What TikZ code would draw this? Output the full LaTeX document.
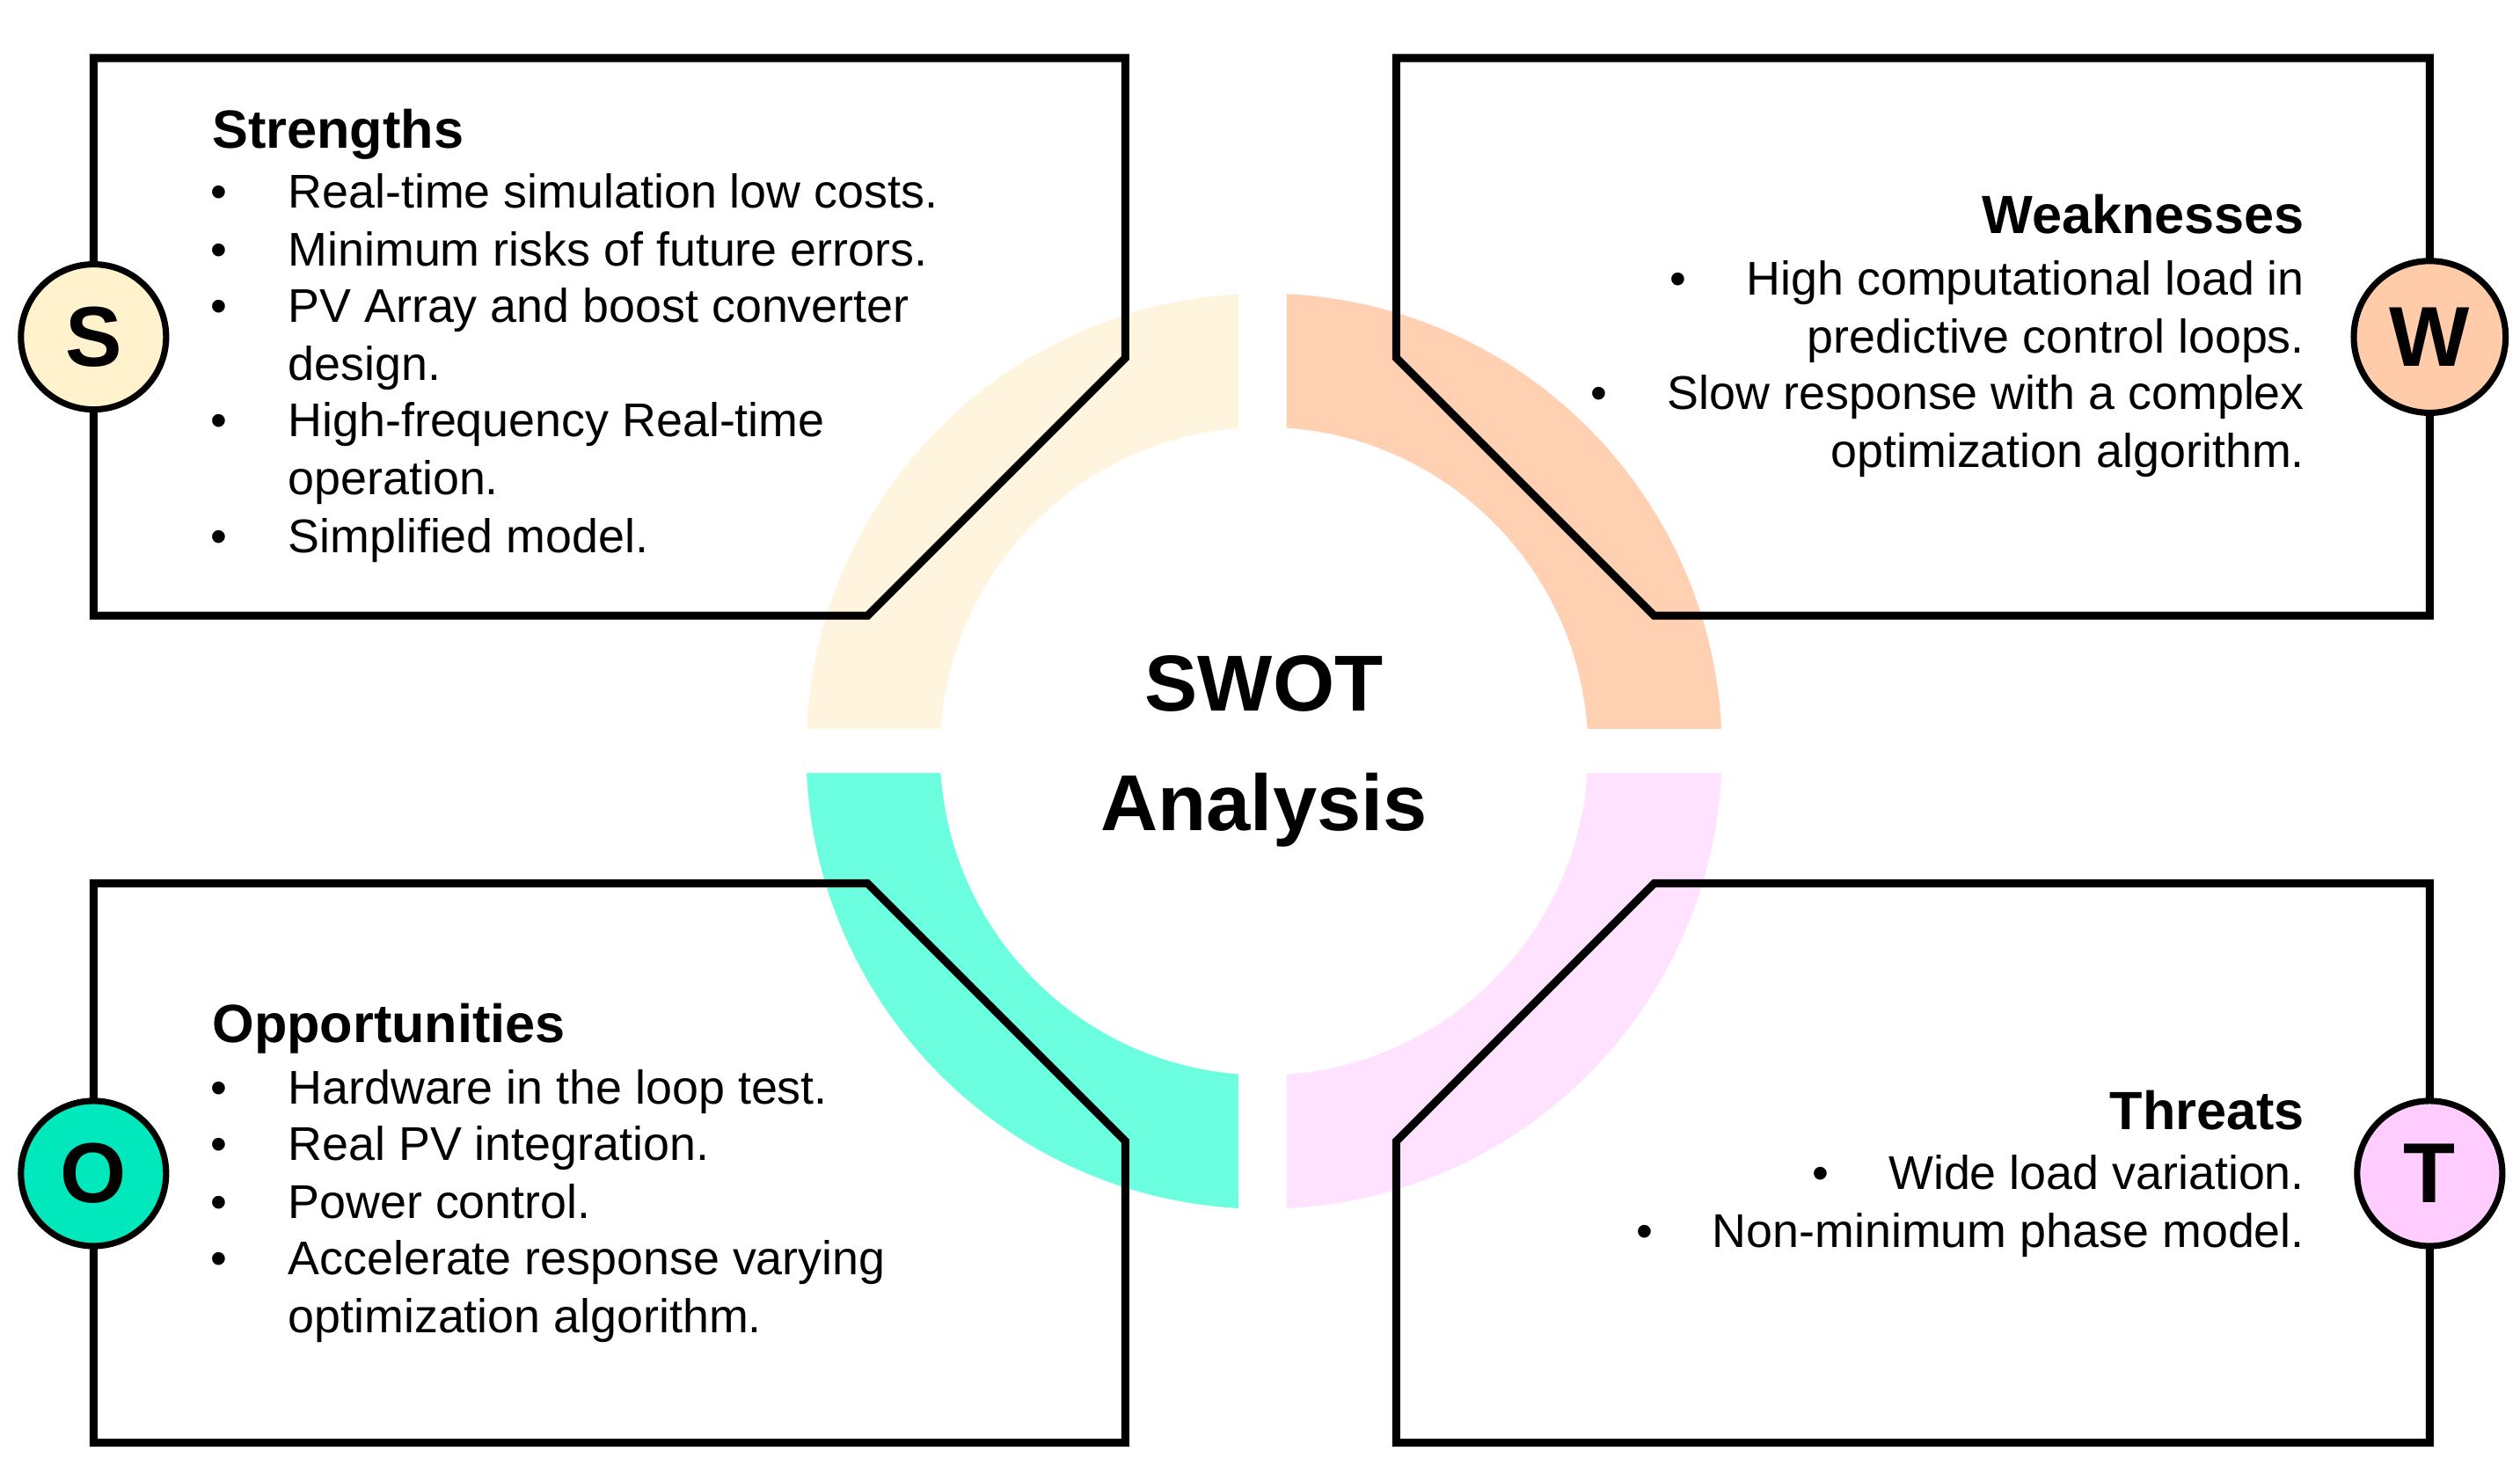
\documentclass[tikz,border=0pt]{standalone}
\usepackage{fontspec}
\setmainfont{Liberation Sans}
\begin{document}
\begin{tikzpicture}[x=0.01cm,y=-0.01cm,
  box/.style={line width=1.4pt,line join=miter},
  badge/.style={circle,draw,line width=1.1pt,minimum size=0.9cm,font=\fontsize{15}{18}\selectfont\bfseries},
  txt/.style={font=\fontsize{8.35}{10}\selectfont,inner sep=0pt},
  hd/.style={font=\fontsize{9.5}{11}\selectfont\bfseries,inner sep=0pt},
  bul/.style={font=\fontsize{8.35}{10}\selectfont,inner sep=0pt,anchor=base}]
\definecolor{cS}{HTML}{FFF4DE}\definecolor{cW}{HTML}{FFD0B2}
\definecolor{cO}{HTML}{6CFFDF}\definecolor{cT}{HTML}{FFE2FF}
\definecolor{bS}{HTML}{FFF2CC}\definecolor{bW}{HTML}{FFCBA8}
\definecolor{bO}{HTML}{00E8BC}\definecolor{bT}{HTML}{FFCCFF}
\useasboundingbox (0,0) rectangle (1563,918);
% ring
\foreach \c/\xa/\xb/\ya/\yb in {cS/490/768/170/452, cW/798/1080/170/452, cO/490/768/480/760, cT/798/1080/480/760}{
  \begin{scope}
  \clip (\xa,\ya) rectangle (\xb,\yb);
  \fill[\c,even odd rule] (784,466) circle[radius=284] (784,466) circle[radius=201];
  \end{scope}}
% boxes
\draw[box] (58,36)--(698,36)--(698,222)--(538,382)--(58,382)--cycle;
\draw[box] (866,36)--(1507,36)--(1507,382)--(1026,382)--(866,222)--cycle;
\draw[box] (58,548)--(538,548)--(698,708)--(698,895)--(58,895)--cycle;
\draw[box] (866,708)--(1026,548)--(1507,548)--(1507,895)--(866,895)--cycle;
% badges
\node[badge,fill=bS] (bs) at (58,209) {S};
\node[badge,fill=bW] (bw) at (1507,209) {W};
\node[badge,fill=bO] (bo) at (58,728) {O};
\node[badge,fill=bT] (bt) at (1507,728) {T};
% title
\node[font=\fontsize{14}{17}\selectfont\bfseries,align=center,inner sep=0pt] (title) at (784,466) {SWOT\\[4pt]Analysis};
% S
\node[hd,anchor=base west] (sh) at (131,92) {Strengths};
\foreach \y/\b/\t [count=\i] in {121/1/Real-time simulation low costs., 157/1/Minimum risks of future errors., 192/1/PV Array and boost converter, 228/0/design., 263/1/High-frequency Real-time, 299/0/operation., 335/1/Simplified model.}{
  \node[txt,anchor=base west] (s\i) at (178,\y+8) {\t};
  \ifnum\b=1 \node[bul] (sb\i) at (136,\y+8) {•};\fi}
% O
\node[hd,anchor=base west] (oh) at (131,647) {Opportunities};
\foreach \y/\b/\t [count=\i] in {677/1/Hardware in the loop test., 712/1/Real PV integration., 748/1/Power control., 783/1/Accelerate response varying, 819/0/optimization algorithm.}{
  \node[txt,anchor=base west] (o\i) at (178,\y+8) {\t};
  \ifnum\b=1 \node[bul] (ob\i) at (136,\y+8) {•};\fi}
% W
\node[hd,anchor=base east] (wh) at (1430,145) {Weaknesses};
\node[txt,anchor=base east] (w1) at (1430,183) {High computational load in};
\node[txt,anchor=base east] (w2) at (1430,219) {predictive control loops.};
\node[txt,anchor=base east] (w3) at (1430,254) {Slow response with a complex};
\node[txt,anchor=base east] (w4) at (1430,290) {optimization algorithm.};
\node[bul] (wb1) at (1041,183) {•};
\node[bul] (wb2) at (992,254) {•};
% T
\node[hd,anchor=base east] (th) at (1430,701) {Threats};
\node[txt,anchor=base east] (t1) at (1430,738) {Wide load variation.};
\node[txt,anchor=base east] (t2) at (1430,774) {Non-minimum phase model.};
\node[bul] (tb1) at (1129,738) {•};
\node[bul] (tb2) at (1020,774) {•};
\end{tikzpicture}
\end{document}
